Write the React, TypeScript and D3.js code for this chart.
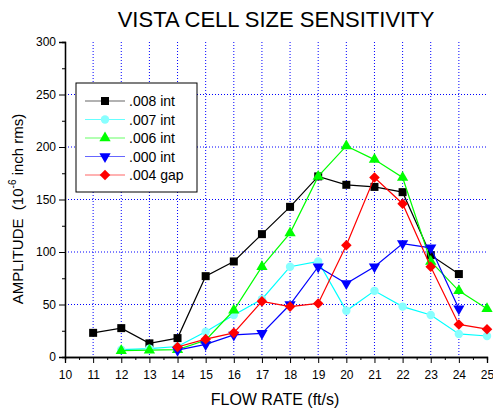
import React, { useRef, useEffect } from 'react';
import * as d3 from 'd3';

const flowRates = [10, 11, 12, 13, 14, 15, 16, 17, 18, 19, 20, 21, 22, 23, 24, 25];
const xTicks = [10, 11, 12, 13, 14, 15, 16, 17, 18, 19, 20, 21, 22, 23, 24, 25];
const yTicks = [0, 50, 100, 150, 200, 250, 300];

// null = no measurement
const int008 = [null, 23, 27.5, 13, 18, 77, 91, 117, 143, 172, 164, 162, 157, 97, 79, null];
const int007 = [null, null, 7, 8, 10, 24, 40, 55, 86, 91, 44, 63, 48, 40, 22, 20];
const int006 = [null, null, 6, 6.5, 7, 16, 44.5, 86, 118, 172, 201, 188, 171, 91, 63, 46];
const int000 = [null, null, null, null, 6.5, 12, 21, 22.5, 50, 86, 70, 86, 108, 104, 46, null];
const gap004 = [null, null, null, null, 9.5, 17, 23, 53, 48, 51, 106.5, 171, 146, 86, 31, 26.5];

const series = [
  { name: '.008 int', values: int008, line: '#000000', fill: '#000000', shape: 'square' },
  { name: '.007 int', values: int007, line: '#00ffff', fill: '#88ffff', shape: 'circle' },
  { name: '.006 int', values: int006, line: '#00ff00', fill: '#00ff00', shape: 'triangle' },
  { name: '.000 int', values: int000, line: '#0000ff', fill: '#0000ff', shape: 'down' },
  { name: '.004 gap', values: gap004, line: '#ff0000', fill: '#ff0000', shape: 'diamond' },
];

const symbolFor = (shape: string) => {
  switch (shape) {
    case 'square': return d3.symbol(d3.symbolSquare, 64);
    case 'circle': return d3.symbol(d3.symbolCircle, 56);
    case 'triangle': return d3.symbol(d3.symbolTriangle, 55);
    case 'down': return d3.symbol(d3.symbolTriangle, 55);
    default: return d3.symbol(d3.symbolSquare, 56);
  }
};
const rot = (shape: string) => shape === 'down' ? ' rotate(180)' : shape === 'diamond' ? ' rotate(45)' : '';

function App() {
  const ref = useRef<SVGSVGElement>(null);

  useEffect(() => {
    const svg = d3.select(ref.current);
    svg.selectAll('*').remove();

    const margin = { top: 42, left: 65 };

    const x = d3.scaleLinear().domain([10, 25]).range([0, 487 - 65]);
    const y = d3.scaleLinear().domain([0, 300]).range([357 - 42, 0]);

    const font = 'Liberation Sans, Arial, sans-serif';

    svg.append('text')
      .attr('x', 276).attr('y', 27)
      .attr('text-anchor', 'middle')
      .attr('font-family', font).attr('font-size', 22)
      .text('VISTA CELL SIZE SENSITIVITY');

    const g = svg.append('g').attr('transform', `translate(${margin.left},${margin.top})`);

    // grid
    g.append('g').selectAll('line')
      .data(xTicks.filter(t => t > 10 && t < 25))
      .join('line')
      .attr('x1', d => x(d)).attr('x2', d => x(d))
      .attr('y1', 0).attr('y2', y(0))
      .attr('stroke', '#0000ff').attr('stroke-dasharray', '1,2');
    g.append('g').selectAll('line')
      .data(yTicks.filter(t => t > 0 && t < 300))
      .join('line')
      .attr('x1', 0).attr('x2', x(25))
      .attr('y1', d => y(d)).attr('y2', d => y(d))
      .attr('stroke', '#0000ff').attr('stroke-dasharray', '1,2');

    // axes
    const xAxis = g.append('g').attr('transform', `translate(0,${y(0)})`)
      .call(d3.axisBottom(x).tickValues(xTicks).tickFormat(d3.format('d')).tickSizeOuter(0).tickSize(6));
    g.append('g').attr('transform', `translate(0,${y(0)})`)
      .call(d3.axisBottom(x).tickValues(d3.range(10.5, 25, 1)).tickFormat(() => '').tickSize(3));
    const yAxis = g.append('g')
      .call(d3.axisLeft(y).tickValues(yTicks).tickSizeOuter(0).tickSize(6));
    g.append('g')
      .call(d3.axisLeft(y).tickValues(d3.range(25, 300, 50)).tickFormat(() => '').tickSize(3));
    [xAxis, yAxis].forEach(a => a.selectAll('text')
      .attr('font-family', font).attr('font-size', 12).attr('fill', '#000'));
    xAxis.selectAll('text').attr('dy', '1.1em');
    g.selectAll('.domain').attr('stroke', '#000').attr('stroke-width', 1.3);

    // series
    series.forEach(s => {
      const pts = flowRates.map((f, i) => ({ f, v: s.values[i] })).filter(p => p.v != null) as { f: number; v: number }[];
      g.append('path')
        .datum(pts)
        .attr('fill', 'none').attr('stroke', s.line).attr('stroke-width', 1.2)
        .attr('d', d3.line<{ f: number; v: number }>().x(p => x(p.f)).y(p => y(p.v)));
      g.append('g').selectAll('path')
        .data(pts).join('path')
        .attr('d', symbolFor(s.shape)() as string)
        .attr('transform', p => `translate(${x(p.f)},${y(p.v)})${rot(s.shape)}`)
        .attr('fill', s.fill);
    });

    // legend
    const lg = svg.append('g').attr('transform', 'translate(76,83)');
    lg.append('rect').attr('width', 121).attr('height', 109)
      .attr('fill', '#fff').attr('stroke', '#000').attr('stroke-width', 1);
    series.forEach((s, i) => {
      const row = lg.append('g').attr('transform', `translate(0,${18 + i * 18.5})`);
      row.append('line').attr('x1', 9).attr('x2', 49).attr('stroke', s.line).attr('stroke-width', 1.2).attr('stroke-opacity', 0.6);
      row.append('path').attr('d', symbolFor(s.shape)() as string)
        .attr('transform', `translate(29,0)${rot(s.shape)}`)
        .attr('fill', s.fill);
      row.append('text').attr('x', 53).attr('y', 5)
        .attr('font-family', font).attr('font-size', 14).text(s.name);
    });

    // axis titles
    svg.append('text')
      .attr('x', 275).attr('y', 405)
      .attr('text-anchor', 'middle')
      .attr('font-family', font).attr('font-size', 16)
      .text('FLOW RATE (ft/s)');
    const yl = svg.append('text')
      .attr('transform', 'translate(23,209) rotate(-90)')
      .attr('text-anchor', 'middle')
      .attr('font-family', font).attr('font-size', 15)
      .style('white-space', 'pre');
    yl.append('tspan').text('AMPLITUDE  (10');
    yl.append('tspan').attr('dy', -7).attr('font-size', 10).text('-6');
    yl.append('tspan').attr('dy', 7).text(' inch rms)');
  }, []);

  return <svg ref={ref} width={493} height={413} style={{ position: 'absolute', left: 0, top: 0 }} />;
}

export default App;
